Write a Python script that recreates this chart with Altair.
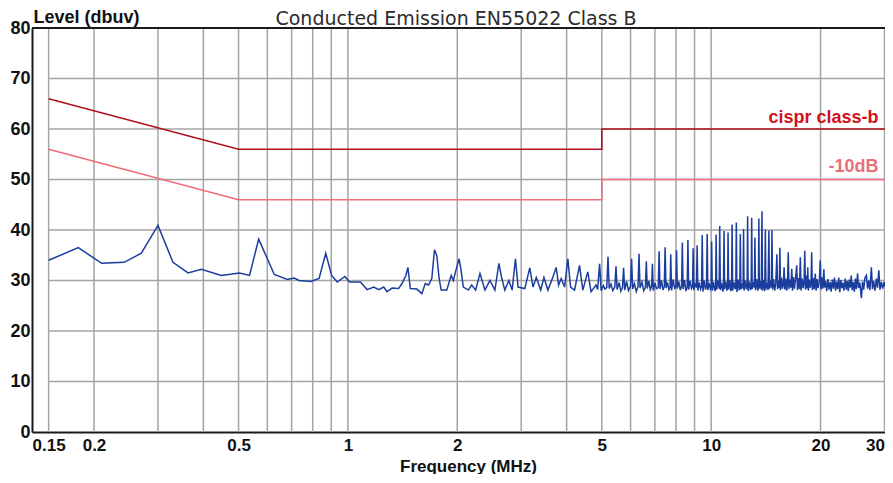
import altair as alt
import pandas as pd

title_text = "Conducted Emission EN55022 Class B"
x_title = "Frequency (MHz)"
y_title = "Level (dbuv)"
x_ticks = [0.15, 0.2, 0.5, 1, 2, 5, 10, 20, 30]
y_ticks = [0, 10, 20, 30, 40, 50, 60, 70, 80]
grid_freqs = [0.15, 0.2, 0.3, 0.4, 0.5, 0.6, 0.7, 0.8, 0.9, 1, 2, 3, 4, 5, 6, 7, 8, 9, 10, 20, 30]
grid_levels = [10, 20, 30, 40, 50, 60, 70]

limit_freq = [0.15, 0.5, 5, 5, 30.1]
cispr_level = [66, 56, 56, 60, 60]
minus10_level = [56, 46, 46, 50, 50]

trace_low = [
    [0.150, 34.0], [0.181, 36.5], [0.210, 33.4], [0.242, 33.6], [0.270, 35.4], [0.300, 40.9],
    [0.330, 33.6], [0.363, 31.5], [0.395, 32.2], [0.448, 31.0], [0.503, 31.5], [0.536, 31.0],
    [0.568, 38.2], [0.627, 31.2], [0.682, 30.2], [0.711, 30.5], [0.734, 30.0], [0.790, 29.8],
    [0.833, 30.4], [0.869, 35.4], [0.902, 31.0], [0.935, 29.7], [0.981, 30.8], [1.011, 29.7],
]

trace_mid = [
    [1.083, 29.7], [1.129, 28.2], [1.178, 28.7], [1.216, 28.2], [1.255, 28.7], [1.281, 27.8],
    [1.323, 28.5], [1.379, 28.4], [1.409, 29.4], [1.444, 31.0], [1.463, 32.6], [1.485, 28.4],
    [1.548, 28.3], [1.598, 27.4], [1.633, 29.4], [1.667, 29.1], [1.702, 30.4], [1.731, 36.1],
    [1.757, 34.9], [1.783, 30.4], [1.806, 28.1], [1.871, 28.1], [1.924, 31.0], [1.951, 30.0],
    [1.973, 31.4], [2.023, 34.3], [2.049, 32.0], [2.078, 28.7], [2.146, 28.1], [2.191, 29.1],
    [2.247, 28.1], [2.310, 31.4], [2.384, 28.1], [2.460, 30.0], [2.539, 28.1], [2.604, 33.4],
    [2.647, 30.7], [2.704, 28.1], [2.773, 30.0], [2.832, 28.1], [2.892, 34.3], [2.941, 28.7],
    [3.068, 28.4], [3.167, 32.5], [3.233, 28.7], [3.301, 30.6], [3.394, 28.1], [3.465, 30.6],
    [3.553, 28.1], [3.667, 30.7], [3.744, 32.6], [3.802, 29.1], [3.865, 30.4], [3.949, 28.7],
    [4.032, 34.3], [4.102, 28.7], [4.206, 28.1], [4.341, 33.0], [4.433, 28.1], [4.574, 31.7],
    [4.670, 27.8], [4.820, 29.1],
]

trace_spikes = [
    [4.87, 28.2], [4.93, 33.3], [4.98, 28.0], [5.05, 29.0], [5.10, 28.3], [5.16, 28.6],
    [5.20, 34.7], [5.24, 28.4], [5.30, 29.3], [5.36, 28.0], [5.43, 28.7], [5.47, 32.8],
    [5.51, 28.2], [5.58, 29.6], [5.64, 27.9], [5.70, 28.6], [5.74, 32.5], [5.78, 28.1],
    [5.85, 29.8], [5.92, 28.0], [6.00, 28.9], [6.04, 34.3], [6.08, 28.3], [6.15, 29.4],
    [6.22, 27.8], [6.29, 28.8], [6.33, 35.3], [6.37, 28.5], [6.45, 29.7], [6.52, 28.0],
    [6.59, 28.6], [6.63, 33.8], [6.67, 28.4], [6.74, 29.9], [6.80, 28.2], [6.86, 28.9],
    [6.89, 33.3], [6.93, 28.0], [7.00, 29.5], [7.07, 28.4], [7.15, 28.6], [7.19, 35.8],
    [7.23, 28.3], [7.30, 30.0], [7.37, 28.1], [7.43, 28.8], [7.47, 36.6], [7.51, 28.5],
    [7.58, 29.6], [7.65, 28.2], [7.71, 28.7], [7.74, 35.2], [7.78, 28.0], [7.86, 30.2],
    [7.94, 28.3], [8.00, 29.0], [8.03, 36.0], [8.07, 28.4], [8.15, 29.8], [8.22, 28.1],
    [8.29, 28.9], [8.33, 37.5], [8.37, 28.3], [8.45, 30.1], [8.52, 27.9], [8.59, 28.7],
    [8.63, 38.0], [8.67, 28.2], [8.75, 29.9], [8.83, 28.4], [8.89, 28.8], [8.92, 36.4],
    [8.96, 28.1], [9.03, 29.3], [9.11, 28.6], [9.15, 37.0], [9.19, 28.0], [9.27, 29.6],
    [9.35, 28.3], [9.41, 28.9], [9.45, 39.0], [9.49, 27.8], [9.57, 30.0], [9.65, 28.2],
    [9.71, 28.9], [9.75, 39.2], [9.79, 28.1], [9.87, 29.5], [9.95, 28.3], [10.00, 28.8],
    [10.03, 37.7], [10.07, 28.0], [10.15, 29.7], [10.24, 27.9], [10.29, 28.6], [10.32, 39.1],
    [10.36, 28.2], [10.44, 30.0], [10.52, 28.4], [10.56, 40.8], [10.60, 28.1], [10.68, 29.6],
    [10.77, 27.8], [10.81, 28.7], [10.85, 39.8], [10.89, 28.3], [10.97, 29.8], [11.05, 28.0],
    [11.10, 28.9], [11.13, 39.5], [11.17, 28.2], [11.25, 30.1], [11.33, 27.9], [11.38, 28.6],
    [11.42, 41.1], [11.46, 28.0], [11.55, 29.7], [11.64, 28.3], [11.69, 28.8], [11.73, 41.5],
    [11.77, 27.7], [11.86, 30.2], [11.94, 28.1], [11.99, 28.9], [12.03, 39.2], [12.07, 28.2],
    [12.15, 29.5], [12.24, 28.4], [12.28, 40.2], [12.32, 28.0], [12.41, 30.0], [12.50, 28.3],
    [12.56, 28.9], [12.60, 42.7], [12.64, 27.9], [12.73, 29.8], [12.83, 28.1], [12.89, 28.7],
    [12.93, 42.4], [12.97, 28.3], [13.06, 29.7], [13.15, 28.6], [13.20, 38.5], [13.24, 28.1],
    [13.34, 30.3], [13.43, 28.0], [13.49, 28.8], [13.53, 42.3], [13.57, 28.4], [13.66, 29.9],
    [13.74, 28.2], [13.80, 43.7], [13.85, 28.0], [13.95, 30.1], [14.04, 27.9], [14.10, 40.1],
    [14.15, 28.3], [14.25, 29.6], [14.34, 28.1], [14.42, 39.9], [14.47, 28.4], [14.57, 30.0],
    [14.65, 28.6], [14.70, 40.0], [14.76, 28.2], [14.86, 30.3], [14.96, 28.0], [15.06, 29.4],
    [15.17, 35.2], [15.23, 28.3], [15.33, 30.0], [15.40, 28.5], [15.46, 36.5], [15.52, 28.1],
    [15.62, 30.6], [15.72, 28.4], [15.80, 29.2], [15.88, 32.6], [15.95, 28.2], [16.05, 30.4],
    [16.15, 28.0], [16.22, 29.3], [16.30, 35.6], [16.38, 28.3], [16.48, 30.2], [16.58, 28.6],
    [16.67, 32.3], [16.75, 28.0], [16.85, 30.7], [16.95, 28.4], [17.05, 30.0], [17.20, 33.0],
    [17.28, 28.1], [17.38, 30.5], [17.50, 28.3], [17.60, 34.6], [17.68, 28.0], [17.80, 30.4],
    [17.92, 28.5], [18.02, 29.6], [18.10, 35.9], [18.18, 28.2], [18.30, 31.0], [18.38, 28.4],
    [18.45, 32.6], [18.52, 28.0], [18.62, 30.2], [18.75, 28.6], [18.84, 29.8], [18.91, 35.6],
    [18.99, 28.1], [19.10, 30.5], [19.22, 28.3], [19.35, 31.4], [19.45, 28.0], [19.57, 30.3],
    [19.70, 28.5], [19.85, 29.9], [19.97, 34.0], [20.06, 28.2], [20.18, 30.6], [20.30, 28.4],
    [20.43, 32.2], [20.52, 28.6],
]

trace_high = [
    [20.65, 29.9], [20.80, 27.9], [20.95, 30.3], [21.10, 28.2], [21.25, 29.7], [21.40, 27.8],
    [21.55, 30.2], [21.70, 28.4], [21.85, 30.6], [22.00, 28.0], [22.15, 29.8], [22.30, 28.3],
    [22.45, 30.6], [22.60, 27.7], [22.75, 30.1], [22.90, 28.5], [23.05, 29.6], [23.20, 28.0],
    [23.40, 30.4], [23.55, 28.2], [23.70, 29.9], [23.85, 27.9], [24.00, 30.2], [24.15, 28.6],
    [24.30, 31.0], [24.45, 28.1], [24.60, 29.7], [24.78, 27.8], [24.95, 30.4], [25.10, 28.3],
    [25.30, 31.4], [25.45, 28.5], [25.65, 29.6], [25.92, 26.5], [26.10, 29.8], [26.30, 28.2],
    [26.50, 30.5], [26.75, 31.0], [26.95, 28.4], [27.15, 30.0], [27.35, 28.1], [27.61, 32.6],
    [27.80, 28.3], [28.00, 29.9], [28.25, 28.0], [28.50, 30.4], [28.70, 28.6], [28.95, 32.0],
    [29.15, 28.2], [29.40, 29.7], [29.65, 28.4], [29.90, 29.7], [30.10, 28.8],
]

FONT = "Liberation Sans"
GRID = "#a4a4a4"
AXIS = "#1a1a1a"
TRACE = "#1b3d9e"
CISPR = "#b0101c"
MINUS10 = "#ee6b78"

xscale = alt.Scale(type="log", domain=[0.135, 30.1], nice=False)
yscale = alt.Scale(domain=[0, 80], nice=False, zero=False)

xaxis = alt.Axis(
    values=x_ticks, format="~g", grid=False, ticks=False, labelFlush=3,
    labelFont=FONT, labelFontSize=17, labelFontWeight="bold", labelColor="#111", labelPadding=5,
    domainColor=AXIS, domainWidth=2,
    title=x_title, titleFont=FONT, titleFontSize=17, titleFontWeight="bold", titleColor="#111",
    titleX=436, titleY=39, titleBaseline="alphabetic", titleAnchor="middle", titleAlign="center",
)
yaxis = alt.Axis(
    values=y_ticks, grid=False, ticks=False,
    labelFont=FONT, labelFontSize=18, labelFontWeight="bold", labelColor="#111", labelPadding=2,
    domainColor=AXIS, domainWidth=2,
    title=y_title, titleFont=FONT, titleFontSize=18, titleFontWeight="bold", titleColor="#111",
    titleAngle=0, titleAlign="left", titleBaseline="alphabetic", titleX=1, titleY=-6,
)

trace_rows = trace_low + trace_mid + trace_spikes + trace_high
trace_df = pd.DataFrame({
    "f": [r[0] for r in trace_rows],
    "level": [r[1] for r in trace_rows],
    "i": list(range(len(trace_rows))),
})
limit_df = pd.DataFrame({
    "f": limit_freq * 2,
    "level": cispr_level + minus10_level,
    "series": ["cispr class-b"] * len(limit_freq) + ["-10dB"] * len(limit_freq),
    "i": list(range(len(limit_freq))) * 2,
})

vgrid = alt.Chart(pd.DataFrame({"f": grid_freqs})).mark_rule(color=GRID, strokeWidth=1.5).encode(
    x=alt.X("f:Q", scale=xscale, axis=xaxis),
    y=alt.YDatum(0, type="quantitative", scale=yscale, axis=yaxis),
    y2=alt.Y2Datum(80),
)

hgrid = alt.Chart(pd.DataFrame({"level": grid_levels})).mark_rule(color=GRID, strokeWidth=1.5).encode(
    y=alt.Y("level:Q", scale=yscale, axis=yaxis),
    x=alt.XDatum(0.15, type="quantitative", scale=xscale, axis=xaxis),
    x2=alt.X2Datum(30.1),
)

top_border = alt.Chart(pd.DataFrame({"level": [80]})).mark_rule(color=AXIS, strokeWidth=2).encode(
    y=alt.Y("level:Q", scale=yscale, axis=yaxis),
    x=alt.XDatum(0.135, type="quantitative", scale=xscale, axis=xaxis),
    x2=alt.X2Datum(30.1),
)

limits = alt.Chart(limit_df).mark_line(strokeWidth=1.6).encode(
    x=alt.X("f:Q", scale=xscale, axis=xaxis),
    y=alt.Y("level:Q", scale=yscale, axis=yaxis),
    order="i:Q",
    color=alt.Color("series:N", scale=alt.Scale(domain=["cispr class-b", "-10dB"], range=[CISPR, MINUS10]), legend=None),
)

trace = alt.Chart(trace_df).mark_line(color=TRACE, strokeWidth=1.5).encode(
    x=alt.X("f:Q", scale=xscale, axis=xaxis),
    y=alt.Y("level:Q", scale=yscale, axis=yaxis),
    order="i:Q",
)

label_cispr = alt.Chart(pd.DataFrame({"t": ["cispr class-b"]})).mark_text(
    font=FONT, fontSize=18, fontWeight="bold", color="#d0121c", align="right", baseline="alphabetic"
).encode(
    text="t:N",
    x=alt.XDatum(28.9, type="quantitative", scale=xscale, axis=xaxis),
    y=alt.YDatum(61.1, type="quantitative", scale=yscale, axis=yaxis),
)

label_minus10 = alt.Chart(pd.DataFrame({"t": ["-10dB"]})).mark_text(
    font=FONT, fontSize=18, fontWeight="bold", color="#e8707a", align="right", baseline="alphabetic"
).encode(
    text="t:N",
    x=alt.XDatum(28.9, type="quantitative", scale=xscale, axis=xaxis),
    y=alt.YDatum(51.4, type="quantitative", scale=yscale, axis=yaxis),
)

title = alt.Chart(pd.DataFrame({"t": [title_text]})).mark_text(
    font="DejaVu Sans", fontSize=19, color="#2b2b2b", align="center", baseline="alphabetic"
).encode(
    text="t:N",
    x=alt.value(424),
    y=alt.value(-3),
)

chart = alt.layer(
    vgrid, hgrid, top_border, limits, trace, label_cispr, label_minus10, title
).properties(
    width=853,
    height=404,
    padding={"left": 24, "top": 20, "right": 0, "bottom": 42},
    autosize=alt.AutoSizeParams(type="none"),
).configure_view(stroke=None).configure(background="white")

chart.save("out.html", embed_options={"renderer": "svg", "actions": False})
